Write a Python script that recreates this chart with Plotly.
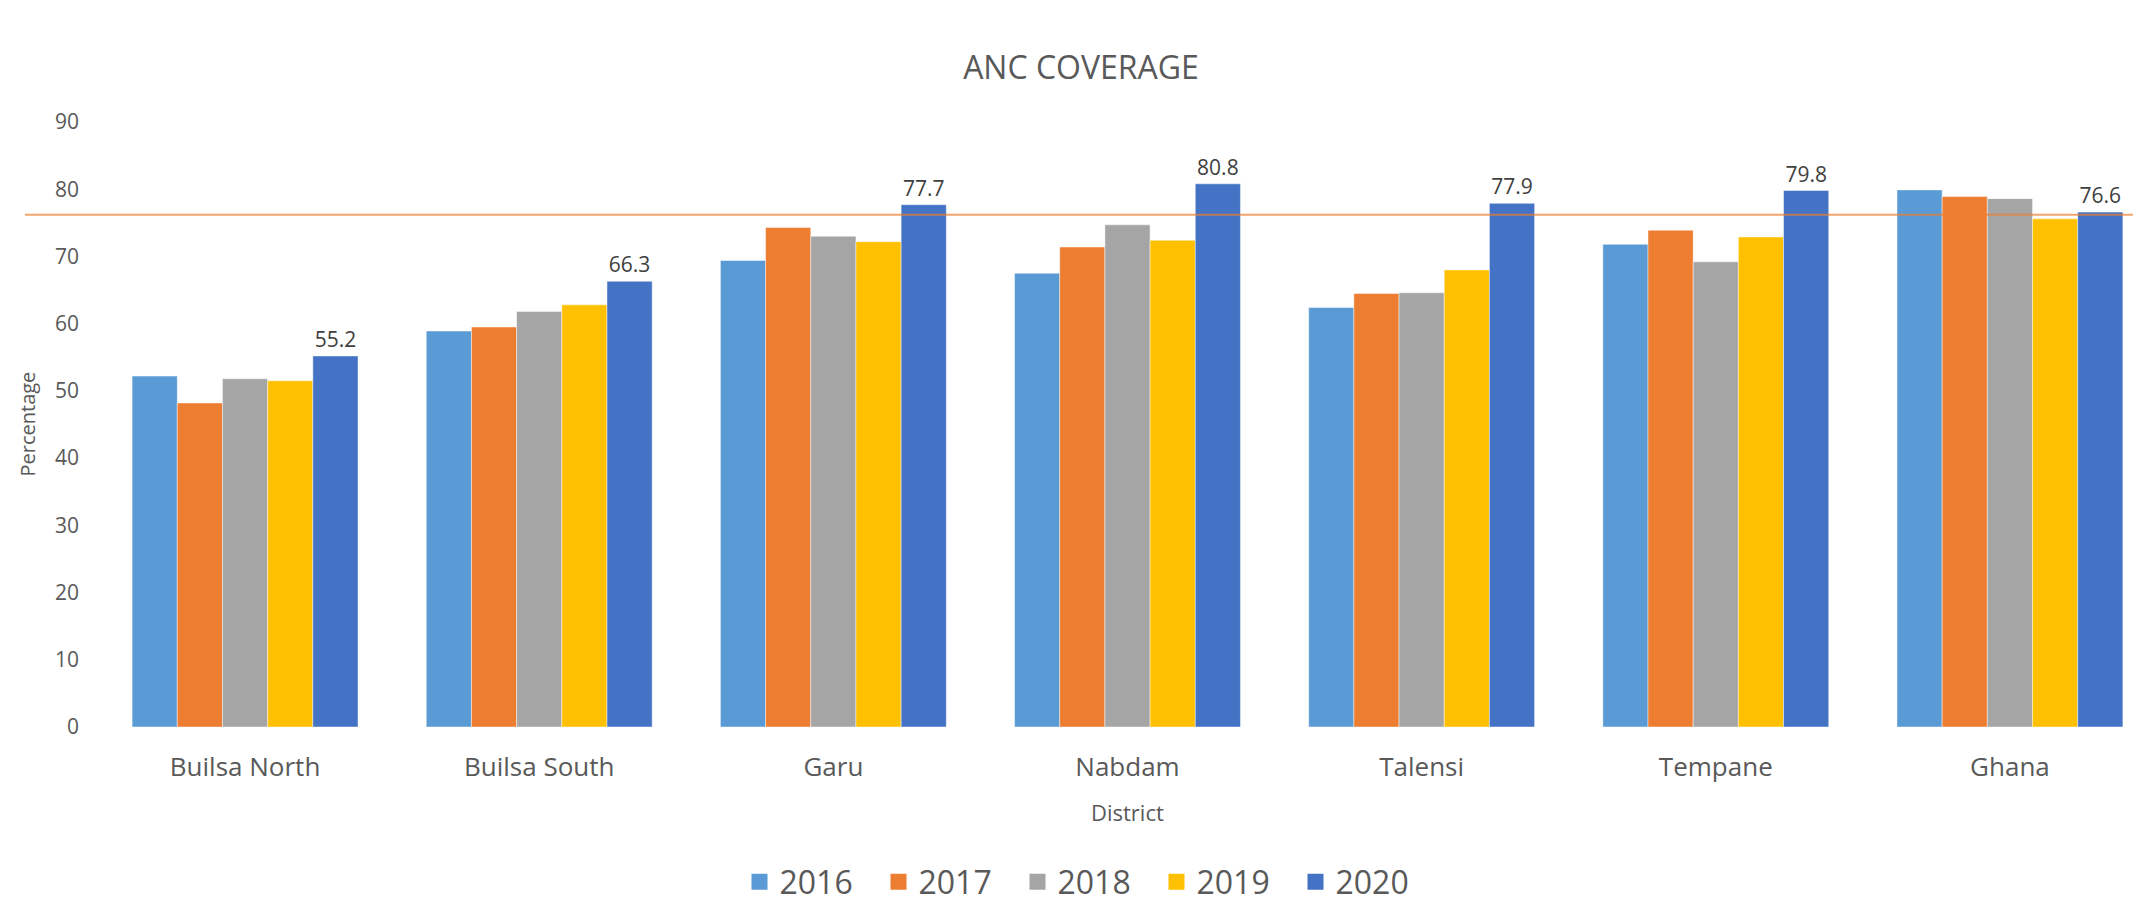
import plotly.graph_objects as go

districts = ["Builsa North", "Builsa South", "Garu", "Nabdam", "Talensi", "Tempane", "Ghana"]
years = ["2016", "2017", "2018", "2019", "2020"]
v2016 = [52.2, 58.9, 69.4, 67.5, 62.4, 71.8, 79.9]
v2017 = [48.2, 59.5, 74.3, 71.4, 64.5, 73.9, 78.9]
v2018 = [51.8, 61.8, 73.0, 74.7, 64.6, 69.2, 78.6]
v2019 = [51.5, 62.8, 72.2, 72.4, 68.0, 72.9, 75.6]
v2020 = [55.2, 66.3, 77.7, 80.8, 77.9, 79.8, 76.6]
reference_level = 76.2
y_ticks = [0, 10, 20, 30, 40, 50, 60, 70, 80, 90]

series = [v2016, v2017, v2018, v2019, v2020]
colors = ["#5B9BD5", "#ED7D31", "#A5A5A5", "#FFC000", "#4472C4"]

# the page body adds an 8px margin; compensate so the figure fills the window
OFF = 8
W, H = 2141 - OFF, 907 - OFF
L, R, T = 98 - OFF, 0, 122 - OFF
B = H - (727 - OFF)
pw = W - L - R
ph = H - T - B


def py(y_full):
    """paper y for a reference pixel row"""
    return (H - B - (y_full - OFF)) / ph


def px(x_full):
    return (x_full - OFF - L) / pw


fig = go.Figure()
for yr, vals, col in zip(years, series, colors):
    is_last = yr == "2020"
    fig.add_trace(go.Bar(
        x=districts, y=vals, name=yr,
        marker=dict(color=col, line=dict(color="rgba(255,255,255,0.45)", width=1)),
        text=[f"{v:.1f}" for v in vals] if is_last else None,
        textposition="outside" if is_last else "none",
        textfont=dict(size=21, color="#404040", family="Open Sans"),
        cliponaxis=False,
        showlegend=False,
    ))
    fig.add_trace(go.Scatter(
        x=[None], y=[None], mode="markers", name=yr,
        marker=dict(symbol="square", size=21, color=col),
        showlegend=True,
    ))

fig.add_shape(type="line", xref="paper", yref="y",
              x0=px(25), x1=1.0, y0=reference_level, y1=reference_level,
              line=dict(color="rgba(237,125,49,0.7)", width=2))

fig.add_annotation(text="Percentage", xref="paper", yref="paper",
                   x=px(27), y=0.5, xanchor="center", yanchor="middle",
                   textangle=-90, showarrow=False,
                   font=dict(size=20, color="#595959", family="Open Sans"))
fig.add_annotation(text="District", xref="paper", yref="paper",
                   x=px(1127), y=py(812),
                   xanchor="center", yanchor="middle", showarrow=False,
                   font=dict(size=22, color="#595959", family="Open Sans"))

fig.update_layout(
    width=W, height=H,
    margin=dict(l=L, r=R, t=T, b=B, autoexpand=False),
    paper_bgcolor="white", plot_bgcolor="white",
    font=dict(family="Open Sans", color="#595959"),
    title=dict(text="ANC COVERAGE", x=(1081 - OFF) / W, xanchor="center",
               y=1 - (67.5 - OFF) / H, yanchor="middle",
               font=dict(size=32, color="#595959", family="Open Sans")),
    barmode="group", bargap=0.232, bargroupgap=0,
    legend=dict(orientation="h", xanchor="center", yanchor="middle",
                x=px(1087), y=py(882),
                font=dict(size=32, color="#595959"),
                entrywidth=94, entrywidthmode="pixels",
                itemsizing="trace", borderwidth=0),
    xaxis=dict(showgrid=False, zeroline=False, showline=False,
               range=[-0.5, 6.5 - (2157 - 2141) / 294.1],
               tickfont=dict(size=26, color="#595959"),
               ticklabelstandoff=22),
    yaxis=dict(range=[0, 90], tickvals=y_ticks, showgrid=False,
               zeroline=False, showline=False,
               tickfont=dict(size=21, color="#595959"),
               ticklabelstandoff=18),
)

fig.write_html("out.html")
